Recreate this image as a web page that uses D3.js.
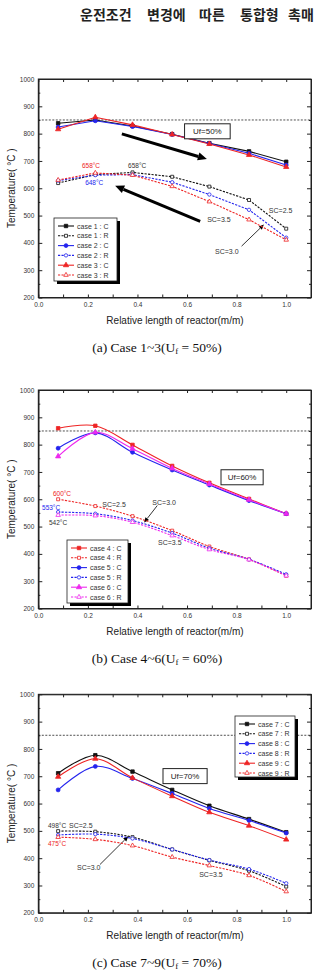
<!DOCTYPE html>
<html>
<head>
<meta charset="utf-8">
<script src="https://cdn.jsdelivr.net/npm/d3@7"></script>
<style>
  body { margin: 0; background: #fff; }
  svg text { font-family: "Liberation Sans", Arial, sans-serif; }
</style>
</head>
<body>
<div class="container"></div>
<script>
// relative positions along the reactor (same for every case)
var xVals = [0.08, 0.23, 0.38, 0.54, 0.69, 0.85, 1.0];

// (a) Uf = 50%
var case1C = [838, 850, 828, 798, 765, 735, 697];
var case1R = [619, 650, 658, 642, 606, 557, 452];
var case2C = [824, 847, 826, 797, 764, 728, 685];
var case2R = [628, 648, 650, 622, 577, 521, 419];
var case3C = [816, 860, 832, 797, 762, 722, 678];
var case3R = [630, 656, 648, 607, 551, 485, 411];

// (b) Uf = 60%
var case4C = [860, 869, 799, 722, 660, 601, 547];
var case4R = [600, 575, 538, 485, 427, 380, 320];
var case5C = [787, 843, 772, 707, 652, 595, 547];
var case5R = [553, 547, 522, 476, 421, 380, 325];
var case6C = [757, 845, 785, 713, 656, 598, 547];
var case6R = [542, 540, 516, 467, 416, 379, 320];

// (c) Uf = 70%
var case7C = [711, 777, 717, 650, 592, 543, 495];
var case7R = [499, 497, 477, 432, 392, 354, 296];
var case8C = [650, 736, 692, 637, 582, 538, 492];
var case8R = [485, 488, 472, 432, 393, 360, 308];
var case9C = [698, 764, 694, 627, 568, 519, 468];
var case9R = [477, 469, 446, 404, 373, 337, 278];

var xTicks = [0, 0.1, 0.2, 0.3, 0.4, 0.5, 0.6, 0.7, 0.8, 0.9, 1.0, 1.1];
var xLabels = [0, 0.2, 0.4, 0.6, 0.8, 1.0];
var yTicks = [200, 300, 400, 500, 600, 700, 800, 900, 1000];
var yMinor = [250, 350, 450, 550, 650, 750, 850, 950];
var refTemp = 850;

var titleWords = ['운전조건', '변경에', '따른', '통합형', '촉매'];
var titleX = [80, 147, 199, 240, 288];

var BLACK = '#111', BLUE = '#2424ee', RED = '#ee2424', MAGENTA = '#ee28ee';

var W = 318, H = 974;
var LEFT = 38.3, RIGHT = 311, PH = 218.5;

var svg = d3.select('.container').append('svg')
    .attr('width', W)
    .attr('height', H);

// page header, one word at a time to keep the wide spacing
var title = svg.append('text')
    .attr('y', 20)
    .style('font-family', '"Noto Sans CJK KR", sans-serif')
    .style('font-weight', 'bold')
    .style('font-size', '14px')
    .attr('fill', '#222');
titleWords.forEach(function (w, i) {
    title.append('tspan').attr('x', titleX[i]).text(w);
});

var xScale = d3.scaleLinear().domain([0, 1.1]).range([LEFT, RIGHT]);

var shapeOf = { square: d3.symbolSquare, circle: d3.symbolCircle, triangle: d3.symbolTriangle };

var drawArrow = function (g, x, y, from, to, width, head) {
    var x1 = x(from[0]), y1 = y(from[1]), x2 = x(to[0]), y2 = y(to[1]);
    var ang = Math.atan2(y2 - y1, x2 - x1);
    var bx = x2 - head * Math.cos(ang), by = y2 - head * Math.sin(ang);
    g.append('line')
        .attr('x1', x1).attr('y1', y1).attr('x2', bx).attr('y2', by)
        .attr('stroke', '#000').attr('stroke-width', width);
    var hw = head * 0.45;
    g.append('path')
        .attr('d', 'M' + x2 + ',' + y2 +
            'L' + (bx + hw * Math.sin(ang)) + ',' + (by - hw * Math.cos(ang)) +
            'L' + (bx - hw * Math.sin(ang)) + ',' + (by + hw * Math.cos(ang)) + 'Z')
        .attr('fill', '#000');
};

var drawPanel = function (top, series, notes, legendBox, caption, smooth) {
    var y = d3.scaleLinear().domain([200, 1000]).range([top + PH, top]);
    var g = svg.append('g');

    // frame
    g.append('rect')
        .attr('x', LEFT).attr('y', top)
        .attr('width', RIGHT - LEFT).attr('height', PH)
        .attr('fill', 'none').attr('stroke', '#222').attr('stroke-width', 1);

    // axes, ticks pointing inward
    g.append('g').attr('transform', 'translate(0,' + (top + PH) + ')')
        .call(d3.axisBottom(xScale).tickValues(xTicks).tickSizeInner(-3).tickSizeOuter(0).tickPadding(5)
            .tickFormat(function (d) {
                return xLabels.some(function (v) { return Math.abs(v - d) < 1e-9; }) ? d3.format('.1f')(d) : '';
            }));
    g.append('g').attr('transform', 'translate(0,' + top + ')')
        .call(d3.axisTop(xScale).tickValues(xTicks).tickSizeInner(-3).tickSizeOuter(0).tickFormat(''));
    g.append('g').attr('transform', 'translate(' + LEFT + ',0)')
        .call(d3.axisLeft(y).tickValues(yTicks).tickSizeInner(-4).tickSizeOuter(0).tickPadding(4)
            .tickFormat(d3.format('d')));
    g.append('g').attr('transform', 'translate(' + LEFT + ',0)')
        .call(d3.axisLeft(y).tickValues(yMinor).tickSizeInner(-2).tickSizeOuter(0).tickFormat(''));
    g.append('g').attr('transform', 'translate(' + RIGHT + ',0)')
        .call(d3.axisRight(y).tickValues(yTicks).tickSizeInner(-4).tickSizeOuter(0).tickFormat(''));
    g.append('g').attr('transform', 'translate(' + RIGHT + ',0)')
        .call(d3.axisRight(y).tickValues(yMinor).tickSizeInner(-2).tickSizeOuter(0).tickFormat(''));
    g.selectAll('.domain').attr('stroke', '#222');
    g.selectAll('.tick line').attr('stroke', '#222');
    g.selectAll('.tick text').style('font-size', '6.5px').attr('fill', '#333')
        .style('font-family', '"Liberation Sans Narrow", "Liberation Sans", sans-serif');

    g.append('text')
        .attr('x', 175).attr('y', top + PH + 26)
        .attr('text-anchor', 'middle')
        .style('font-size', '10px').attr('fill', '#222')
        .text('Relative length of reactor(m/m)');
    g.append('text')
        .attr('transform', 'translate(15,' + (top + PH / 2) + ') rotate(-90)')
        .attr('text-anchor', 'middle')
        .style('font-size', '10px').attr('fill', '#222')
        .text('Temperature( °C )');

    // reference line
    g.append('line')
        .attr('x1', LEFT).attr('x2', RIGHT)
        .attr('y1', y(refTemp)).attr('y2', y(refTemp))
        .attr('stroke', '#222').attr('stroke-width', 0.8).attr('stroke-dasharray', '2,1.5');

    // annotations under the data
    notes.arrows.forEach(function (a) { drawArrow(g, xScale, y, a.from, a.to, a.w, a.head); });

    var line = d3.line()
        .x(function (d, i) { return xScale(xVals[i]); })
        .y(function (d) { return y(d); })
        .curve(smooth ? d3.curveCatmullRom : d3.curveLinear);

    series.forEach(function (s) {
        g.append('path')
            .attr('d', line(s.vals))
            .attr('fill', 'none')
            .attr('stroke', s.color)
            .attr('stroke-width', 1.1)
            .attr('stroke-dasharray', s.dashed ? '2.2,1.3' : null);
    });
    series.forEach(function (s) {
        g.selectAll(null)
            .data(s.vals)
            .enter().append('path')
            .attr('transform', function (d, i) { return 'translate(' + xScale(xVals[i]) + ',' + y(d) + ')'; })
            .attr('d', d3.symbol().type(shapeOf[s.shape]).size(s.dashed ? 9 : 12))
            .attr('fill', s.dashed ? '#fff' : s.color)
            .attr('stroke', s.color)
            .attr('stroke-width', 0.8);
    });

    notes.texts.forEach(function (t) {
        g.append('text')
            .attr('x', xScale(t.x)).attr('y', y(t.y))
            .style('font-size', t.size + 'px')
            .attr('fill', t.color)
            .text(t.text);
    });

    // Uf box
    var b = notes.box;
    g.append('rect')
        .attr('x', xScale(b.x0)).attr('y', y(b.y1))
        .attr('width', xScale(b.x1) - xScale(b.x0)).attr('height', y(b.y0) - y(b.y1))
        .attr('fill', '#fff').attr('stroke', '#222').attr('stroke-width', 1);
    g.append('text')
        .attr('x', (xScale(b.x0) + xScale(b.x1)) / 2)
        .attr('y', (y(b.y0) + y(b.y1)) / 2 + 3)
        .attr('text-anchor', 'middle')
        .style('font-size', '8px').attr('fill', '#222')
        .text(b.text);

    // legend
    var lg = g.append('g');
    lg.append('rect')
        .attr('x', legendBox.x + 3).attr('y', legendBox.y + 3)
        .attr('width', legendBox.w).attr('height', legendBox.h)
        .attr('fill', '#000');
    lg.append('rect')
        .attr('x', legendBox.x).attr('y', legendBox.y)
        .attr('width', legendBox.w).attr('height', legendBox.h)
        .attr('fill', '#fff').attr('stroke', '#222').attr('stroke-width', 0.8);
    series.forEach(function (s, i) {
        var ly = legendBox.y + 8 + i * 9.8;
        var lx = legendBox.x + 4;
        lg.append('line')
            .attr('x1', lx).attr('x2', lx + 16).attr('y1', ly).attr('y2', ly)
            .attr('stroke', s.color).attr('stroke-width', 1.1)
            .attr('stroke-dasharray', s.dashed ? '2.2,1.3' : null);
        lg.append('path')
            .attr('transform', 'translate(' + (lx + 8) + ',' + ly + ')')
            .attr('d', d3.symbol().type(shapeOf[s.shape]).size(s.dashed ? 9 : 12))
            .attr('fill', s.dashed ? '#fff' : s.color)
            .attr('stroke', s.color).attr('stroke-width', 0.8);
        lg.append('text')
            .attr('x', lx + 19).attr('y', ly + 2.5)
            .style('font-size', '7px').attr('fill', '#333')
            .text(s.name);
    });

    // caption
    var cap = svg.append('text')
        .attr('x', 157).attr('y', top + PH + 54)
        .attr('text-anchor', 'middle')
        .style('font-family', '"Liberation Serif", "Times New Roman", serif')
        .style('font-size', '13.5px').attr('fill', '#111');
    cap.append('tspan').text(caption[0]);
    cap.append('tspan').attr('dy', 2).style('font-size', '9px').text('f');
    cap.append('tspan').attr('dy', -2).text(caption[1]);
};

drawPanel(79, [
    { vals: case1C, color: BLACK, shape: 'square', dashed: false, name: 'case 1 : C' },
    { vals: case1R, color: BLACK, shape: 'square', dashed: true, name: 'case 1 : R' },
    { vals: case2C, color: BLUE, shape: 'circle', dashed: false, name: 'case 2 : C' },
    { vals: case2R, color: BLUE, shape: 'circle', dashed: true, name: 'case 2 : R' },
    { vals: case3C, color: RED, shape: 'triangle', dashed: false, name: 'case 3 : C' },
    { vals: case3R, color: RED, shape: 'triangle', dashed: true, name: 'case 3 : R' }
], {
    arrows: [
        { from: [0.337, 799], to: [0.68, 707], w: 3, head: 9 },
        { from: [0.653, 479], to: [0.31, 609], w: 3, head: 9 },
        { from: [0.82, 388], to: [0.91, 467], w: 0.8, head: 5 }
    ],
    texts: [
        { x: 0.176, y: 675, text: '658°C', color: RED, size: 6.5 },
        { x: 0.362, y: 675, text: '658°C', color: '#333', size: 6.5 },
        { x: 0.189, y: 613, text: '648°C', color: BLUE, size: 6.5 },
        { x: 0.93, y: 511, text: 'SC=2.5', color: '#333', size: 7 },
        { x: 0.681, y: 478, text: 'SC=3.5', color: '#333', size: 7 },
        { x: 0.713, y: 361, text: 'SC=3.0', color: '#333', size: 7 }
    ],
    box: { x0: 0.59, x1: 0.774, y0: 781, y1: 836, text: 'Uf=50%' }
}, { x: 54, y: 218, w: 63, h: 63 }, ['(a) Case 1~3(U', ' = 50%)'], false);

drawPanel(390, [
    { vals: case4C, color: RED, shape: 'square', dashed: false, name: 'case 4 : C' },
    { vals: case4R, color: RED, shape: 'square', dashed: true, name: 'case 4 : R' },
    { vals: case5C, color: BLUE, shape: 'circle', dashed: false, name: 'case 5 : C' },
    { vals: case5R, color: BLUE, shape: 'circle', dashed: true, name: 'case 5 : R' },
    { vals: case6C, color: MAGENTA, shape: 'triangle', dashed: false, name: 'case 6 : C' },
    { vals: case6R, color: MAGENTA, shape: 'triangle', dashed: true, name: 'case 6 : R' }
], {
    arrows: [
        { from: [0.48, 577], to: [0.427, 515], w: 0.8, head: 5 }
    ],
    texts: [
        { x: 0.059, y: 613, text: '600°C', color: RED, size: 6.5 },
        { x: 0.015, y: 562, text: '553°C', color: BLUE, size: 6.5 },
        { x: 0.043, y: 504, text: '542°C', color: '#333', size: 6.5 },
        { x: 0.258, y: 573, text: 'SC=2.5', color: '#333', size: 7 },
        { x: 0.46, y: 580, text: 'SC=3.0', color: '#333', size: 7 },
        { x: 0.483, y: 434, text: 'SC=3.5', color: '#333', size: 7 }
    ],
    box: { x0: 0.737, x1: 0.907, y0: 653, y1: 708, text: 'Uf=60%' }
}, { x: 67, y: 540, w: 61, h: 63 }, ['(b) Case 4~6(U', ' = 60%)'], true);

drawPanel(694.3, [
    { vals: case7C, color: BLACK, shape: 'square', dashed: false, name: 'case 7 : C' },
    { vals: case7R, color: BLACK, shape: 'square', dashed: true, name: 'case 7 : R' },
    { vals: case8C, color: BLUE, shape: 'circle', dashed: false, name: 'case 8 : C' },
    { vals: case8R, color: BLUE, shape: 'circle', dashed: true, name: 'case 8 : R' },
    { vals: case9C, color: RED, shape: 'triangle', dashed: false, name: 'case 9 : C' },
    { vals: case9R, color: RED, shape: 'triangle', dashed: true, name: 'case 9 : R' }
], {
    arrows: [
        { from: [0.249, 377], to: [0.363, 480], w: 0.8, head: 5 }
    ],
    texts: [
        { x: 0.039, y: 512, text: '498°C', color: '#333', size: 6.5 },
        { x: 0.124, y: 512, text: 'SC=2.5', color: '#333', size: 7 },
        { x: 0.039, y: 443, text: '475°C', color: RED, size: 6.5 },
        { x: 0.156, y: 356, text: 'SC=3.0', color: '#333', size: 7 },
        { x: 0.649, y: 330, text: 'SC=3.5', color: '#333', size: 7 }
    ],
    box: { x0: 0.503, x1: 0.681, y0: 673, y1: 728, text: 'Uf=70%' }
}, { x: 235, y: 716, w: 60, h: 61 }, ['(c) Case 7~9(U', ' = 70%)'], true);
</script>
</body>
</html>
